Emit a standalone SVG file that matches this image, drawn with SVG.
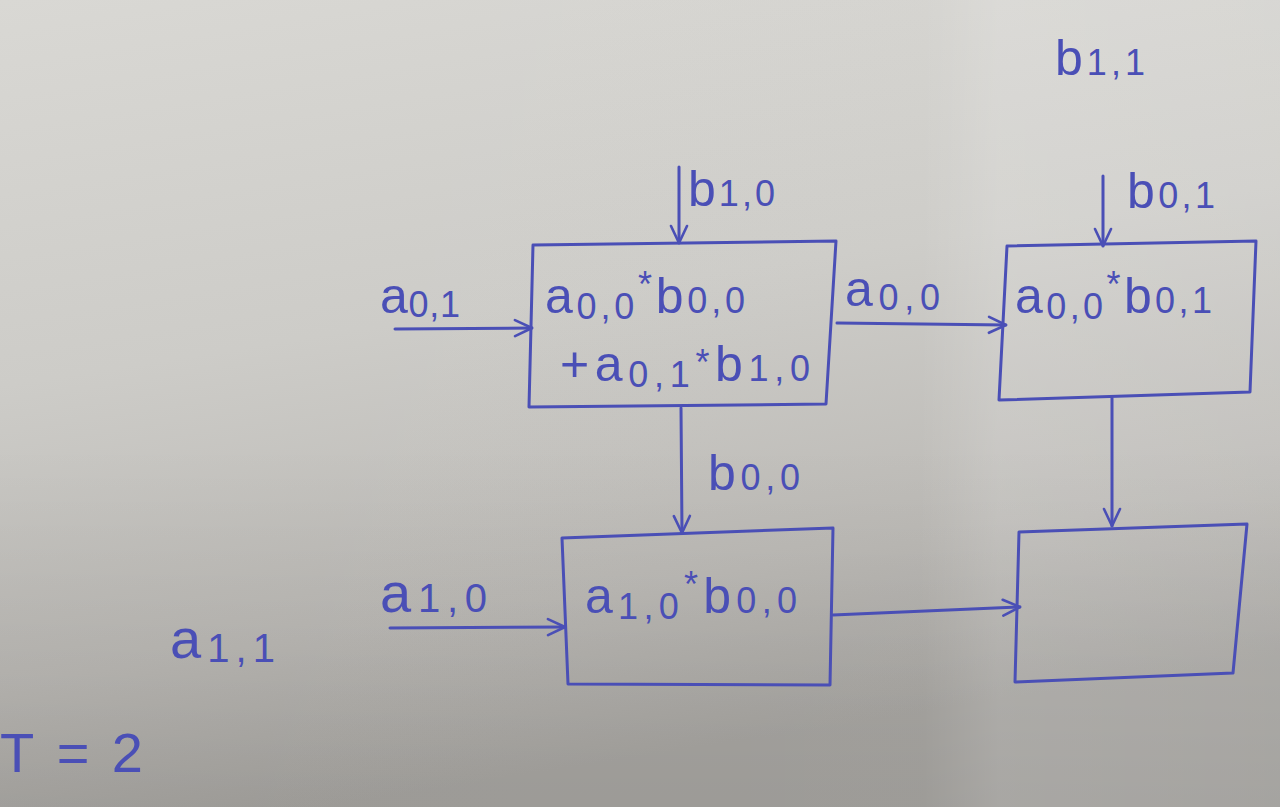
<svg xmlns="http://www.w3.org/2000/svg" width="1280" height="807" viewBox="0 0 1280 807">
  <defs>
    <linearGradient id="paper" x1="0" y1="0" x2="0.25" y2="1">
      <stop offset="0" stop-color="#d9d8d4"/>
      <stop offset="0.45" stop-color="#cdccc8"/>
      <stop offset="0.8" stop-color="#bab8b4"/>
      <stop offset="1" stop-color="#a9a7a3"/>
    </linearGradient>
    <linearGradient id="light" x1="0" y1="0" x2="1" y2="0">
      <stop offset="0" stop-color="#ffffff" stop-opacity="0"/>
      <stop offset="0.72" stop-color="#ffffff" stop-opacity="0.02"/>
      <stop offset="0.78" stop-color="#ffffff" stop-opacity="0.16"/>
      <stop offset="1" stop-color="#ffffff" stop-opacity="0.12"/>
    </linearGradient>
    <linearGradient id="shade" x1="0" y1="0" x2="0" y2="1">
      <stop offset="0" stop-color="#000000" stop-opacity="0"/>
      <stop offset="0.55" stop-color="#000000" stop-opacity="0"/>
      <stop offset="1" stop-color="#000000" stop-opacity="0.08"/>
    </linearGradient>
    <marker id="arr" viewBox="0 0 20 20" refX="19" refY="10" markerWidth="20" markerHeight="20" markerUnits="userSpaceOnUse" orient="auto">
      <path d="M2,2 L19,10 L2,18" fill="none" stroke="#4a4fb6" stroke-width="2.6" stroke-linecap="round" stroke-linejoin="round"/>
    </marker>
    <style>
      .box { fill: none; stroke: #4a4fb6; stroke-width: 3; stroke-linejoin: round; }
      .edge { fill: none; stroke: #4a4fb6; stroke-width: 3; stroke-linecap: round; marker-end: url(#arr); }
      .t { font-family: "Liberation Sans", "DejaVu Sans", sans-serif; fill: #4a4fb6; font-size: 50px; }
      .bt { font-family: "Liberation Sans", "DejaVu Sans", sans-serif; fill: #4a4fb6; font-size: 50px; }
      .s { font-size: 36px; }
      .big { font-size: 56px; }
      .big .s { font-size: 40px; }
    </style>
  </defs>

  <rect x="0" y="0" width="1280" height="807" fill="url(#paper)"/>
  <rect x="0" y="0" width="1280" height="807" fill="url(#light)"/>
  <rect x="0" y="0" width="1280" height="807" fill="url(#shade)"/>

  <g id="connectors">
    <path class="edge" d="M679,167 L679,243"/>
    <path class="edge" d="M395,329 L532,328"/>
    <path class="edge" d="M837,323 L1006,325"/>
    <path class="edge" d="M1103,176 L1103,246"/>
    <path class="edge" d="M681,408 L682,533"/>
    <path class="edge" d="M1112,398 L1112,526"/>
    <path class="edge" d="M390,628 L565,627"/>
    <path class="edge" d="M833,615 L1020,607"/>
  </g>

  <g id="pe00">
    <polygon class="box" points="533,245 836,241 826,404 529,407"/>
    <text class="bt" x="545" y="313" textLength="200">a<tspan class="s" dy="6">0,0</tspan><tspan class="s" dy="-22">*</tspan><tspan dy="16">b</tspan><tspan class="s">0,0</tspan></text>
    <text class="bt" x="560" y="381" textLength="250">+a<tspan class="s" dy="6">0,1</tspan><tspan class="s" dy="-12">*</tspan><tspan dy="6">b</tspan><tspan class="s">1,0</tspan></text>
  </g>

  <g id="pe01">
    <polygon class="box" points="1007,246 1256,241 1250,392 999,400"/>
    <text class="bt" x="1015" y="313" textLength="197">a<tspan class="s" dy="6">0,0</tspan><tspan class="s" dy="-22">*</tspan><tspan dy="16">b</tspan><tspan class="s">0,1</tspan></text>
  </g>

  <g id="pe10">
    <polygon class="box" points="562,538 833,528 830,685 568,684"/>
    <text class="bt" x="585" y="613" textLength="212">a<tspan class="s" dy="6">1,0</tspan><tspan class="s" dy="-22">*</tspan><tspan dy="16">b</tspan><tspan class="s">0,0</tspan></text>
  </g>

  <g id="pe11">
    <polygon class="box" points="1019,532 1247,524 1233,673 1015,682"/>
  </g>

  <g id="labels">
    <text class="t" x="688" y="206" textLength="87">b<tspan class="s">1,0</tspan></text>
    <text class="t" x="1127" y="208" textLength="88">b<tspan class="s">0,1</tspan></text>
    <text class="t" x="380" y="313" textLength="80">a<tspan class="s" dy="4">0,1</tspan></text>
    <text class="t" x="845" y="306" textLength="95">a<tspan class="s" dy="4">0,0</tspan></text>
    <text class="t" x="708" y="490" textLength="92">b<tspan class="s">0,0</tspan></text>
    <text class="t big" x="380" y="612" textLength="107">a<tspan class="s">1,0</tspan></text>
    <text class="t" x="1055" y="75" textLength="90">b<tspan class="s">1,1</tspan></text>
    <text class="t big" x="170" y="658" textLength="105">a<tspan class="s" dy="4">1,1</tspan></text>
    <text class="t" x="0" y="772" style="font-size:56px" textLength="143">T=2</text>
  </g>
</svg>
